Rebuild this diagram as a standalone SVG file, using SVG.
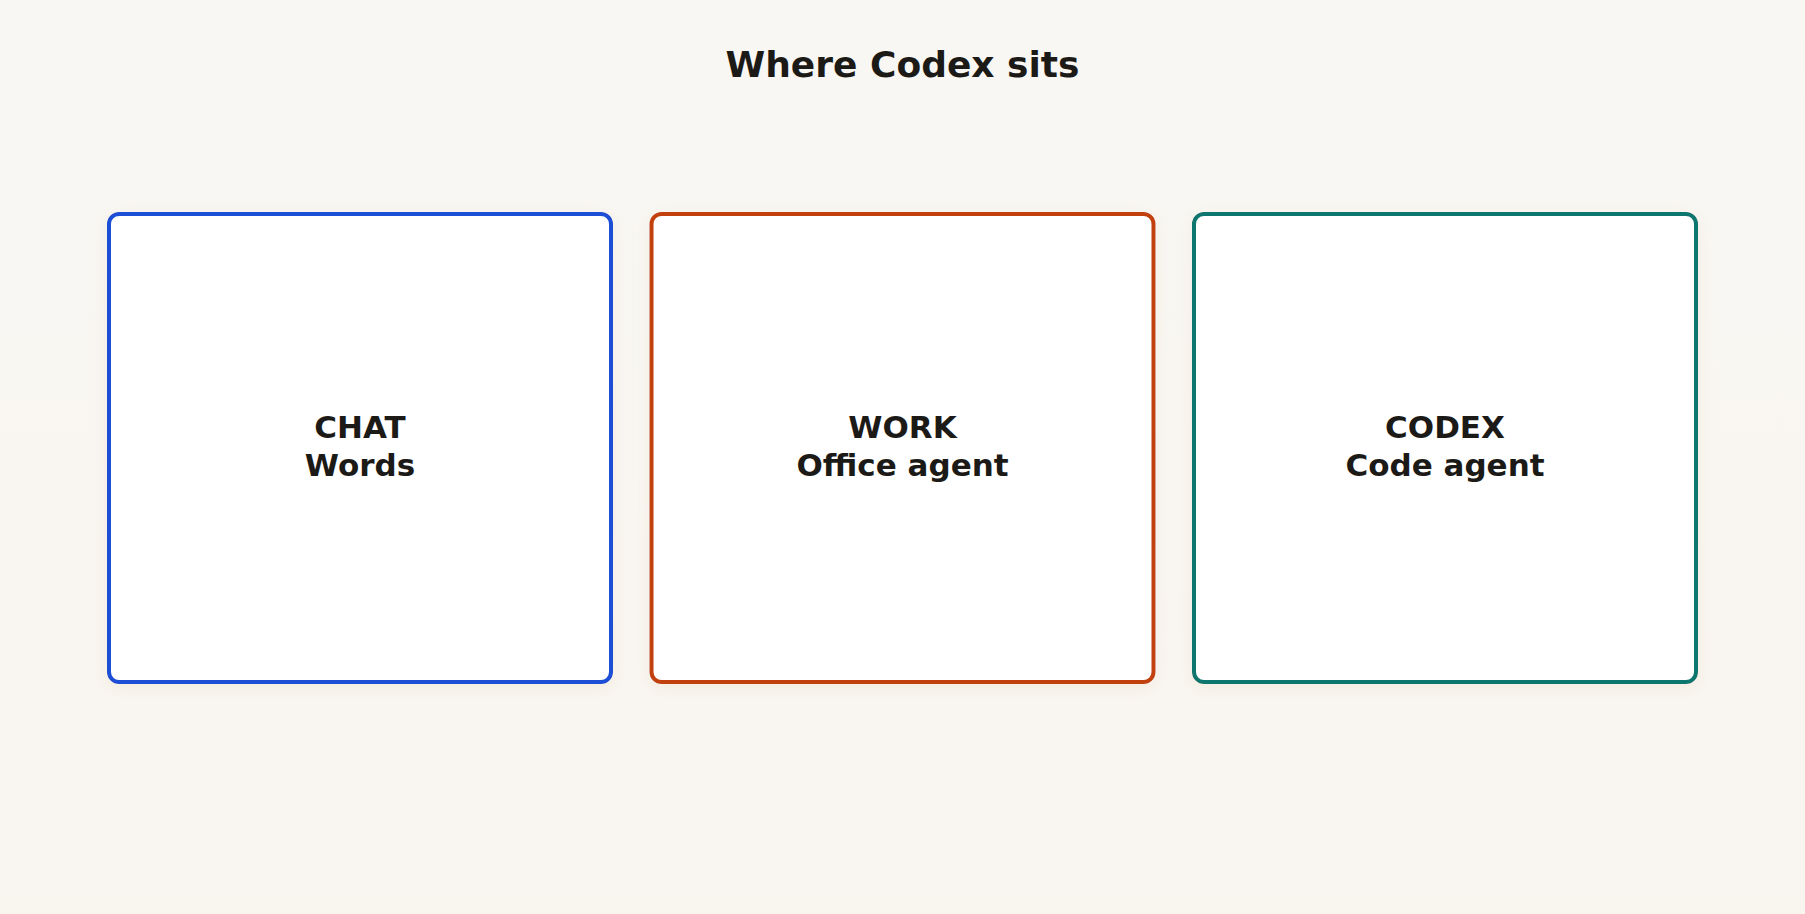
<svg xmlns="http://www.w3.org/2000/svg" width="1805" height="914" viewBox="0 0 1805 914">
  <style>
    .box { fill: #ffffff; stroke-width: 4; }
    .label { font-family: "DejaVu Sans", "Liberation Sans", sans-serif; font-weight: bold; font-size: 31px; fill: #1c1a17; text-anchor: middle; }
    .title { font-family: "DejaVu Sans", "Liberation Sans", sans-serif; font-weight: bold; font-size: 36px; fill: #1c1a17; text-anchor: middle; }
  </style>
  <defs>
    <linearGradient id="bg" x1="0" y1="0" x2="0" y2="1">
      <stop offset="0" stop-color="#f8f7f4"/>
      <stop offset="1" stop-color="#f9f5ef"/>
    </linearGradient>
    <filter id="glow" x="-10%" y="-10%" width="120%" height="120%">
      <feDropShadow dx="0" dy="4" stdDeviation="8" flood-color="#e8d9c0" flood-opacity="0.35"/>
    </filter>
  </defs>
  <rect x="0" y="0" width="1805" height="914" fill="url(#bg)"/>
  <text class="title" x="902.5" y="77">Where Codex sits</text>
  <g id="chat">
    <rect class="box" x="109" y="214" width="502" height="468" rx="10" stroke="#1f4fd6" filter="url(#glow)"/>
    <text class="label" x="360" y="438">CHAT</text>
    <text class="label" x="360" y="476">Words</text>
  </g>
  <g id="work">
    <rect class="box" x="651.5" y="214" width="502" height="468" rx="10" stroke="#c2410c" filter="url(#glow)"/>
    <text class="label" x="902.5" y="438">WORK</text>
    <text class="label" x="902.5" y="476">Office agent</text>
  </g>
  <g id="codex">
    <rect class="box" x="1194" y="214" width="502" height="468" rx="10" stroke="#0f766e" filter="url(#glow)"/>
    <text class="label" x="1445" y="438">CODEX</text>
    <text class="label" x="1445" y="476">Code agent</text>
  </g>
  <g id="connectors"/>
</svg>
